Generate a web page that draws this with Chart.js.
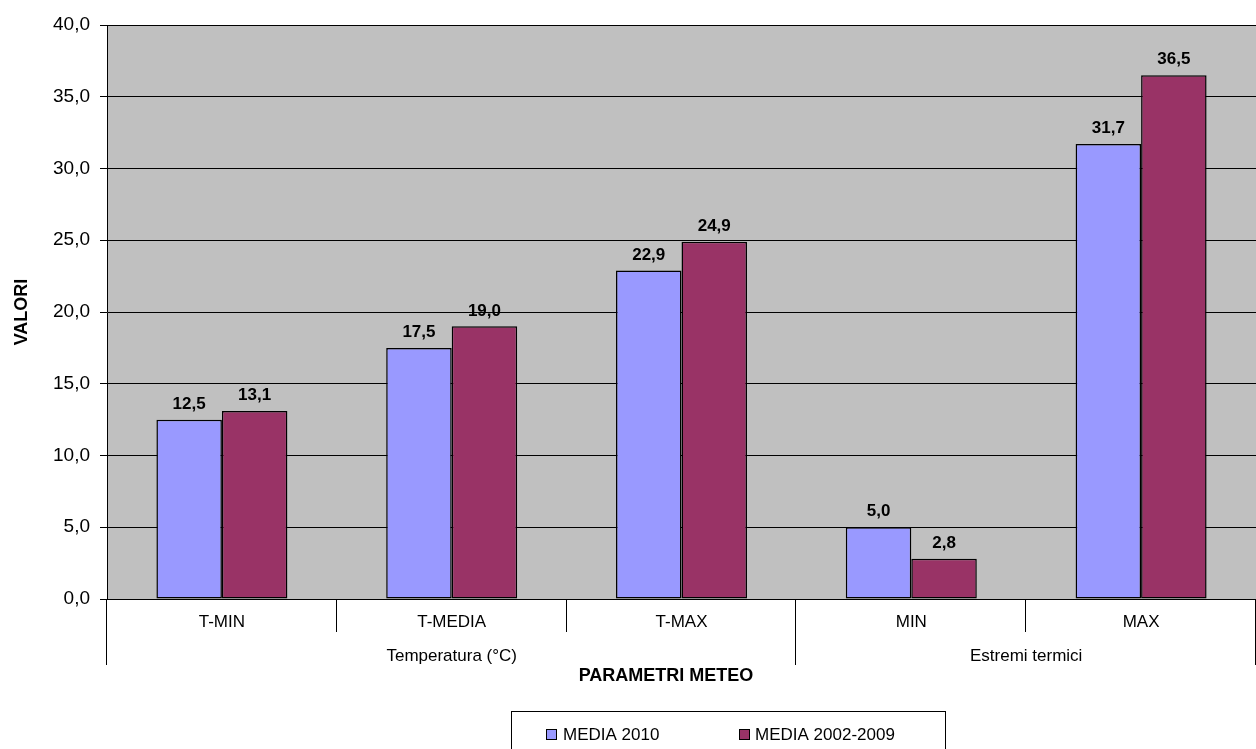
<!DOCTYPE html>
<html>
<head>
<meta charset="utf-8">
<script src="https://cdn.jsdelivr.net/npm/chart.js@4.4.0/dist/chart.umd.min.js"></script>
<style>
    html, body { margin: 0; padding: 0; background: #fff; }
    #wrap { width: 1256px; height: 749px; position: relative; }
</style>
</head>
<body>
<div id="wrap"><canvas id="meteoChart"></canvas></div>
<script>
const categories = ['T-MIN', 'T-MEDIA', 'T-MAX', 'MIN', 'MAX'];
const groups = [
    { label: 'Temperatura (°C)', from: 0, to: 3 },
    { label: 'Estremi termici', from: 3, to: 5 }
];
const media2010 = [12.5, 17.5, 22.9, 5.0, 31.7];
const media20022009 = [13.1, 19.0, 24.9, 2.8, 36.5];
const seriesNames = ['MEDIA 2010', 'MEDIA 2002-2009'];
const seriesColors = ['#9999FF', '#993366'];

const fmt = v => v.toFixed(1).replace('.', ',');
const FONT = "'Liberation Sans', Arial, sans-serif";

// gray plot background
const plotBg = {
    id: 'plotBg',
    beforeDraw(chart) {
        const { ctx, chartArea: a } = chart;
        ctx.save();
        ctx.fillStyle = '#C0C0C0';
        ctx.fillRect(a.left, a.top, a.right - a.left, a.bottom - a.top);
        ctx.restore();
    }
};

// value labels, multi-level x axis, titles and legend box
const extras = {
    id: 'extras',
    afterDraw(chart) {
        const { ctx, chartArea: a } = chart;
        const x = chart.scales.x;
        ctx.save();

        // value labels above bars
        ctx.font = 'bold 17px ' + FONT;
        ctx.fillStyle = '#000';
        ctx.textAlign = 'center';
        ctx.textBaseline = 'bottom';
        chart.data.datasets.forEach((ds, di) => {
            chart.getDatasetMeta(di).data.forEach((bar, i) => {
                ctx.fillText(fmt(ds.data[i]), bar.x, bar.y - 7);
            });
        });

        // category separators
        const step = (a.right - a.left) / categories.length;
        ctx.strokeStyle = '#000';
        ctx.lineWidth = 1;
        for (let i = 0; i <= categories.length; i++) {
            const px = Math.round(a.left + i * step) - 0.5;
            const isGroupEdge = groups.some(g => g.from === i || g.to === i);
            ctx.beginPath();
            ctx.moveTo(px, a.bottom);
            ctx.lineTo(px, a.bottom + (isGroupEdge ? 66 : 33));
            ctx.stroke();
        }

        // category labels
        ctx.font = '17px ' + FONT;
        ctx.textBaseline = 'middle';
        categories.forEach((c, i) => {
            ctx.fillText(c, x.getPixelForValue(i), a.bottom + 23);
        });

        // group labels
        groups.forEach(g => {
            const cx = a.left + (g.from + g.to) / 2 * step;
            ctx.fillText(g.label, cx, a.bottom + 57);
        });

        // axis titles
        ctx.font = 'bold 18px ' + FONT;
        ctx.fillText('PARAMETRI METEO', 666, a.bottom + 77);
        ctx.save();
        ctx.translate(22, 312);
        ctx.rotate(-Math.PI / 2);
        ctx.fillText('VALORI', 0, 0);
        ctx.restore();

        // legend box
        ctx.strokeRect(511.5, 711.5, 434, 50);
        const items = [{ sx: 546, tx: 563 }, { sx: 739, tx: 755 }];
        ctx.font = '17px ' + FONT;
        ctx.textAlign = 'left';
        items.forEach((it, i) => {
            ctx.fillStyle = seriesColors[i];
            ctx.fillRect(it.sx, 729, 11, 11);
            ctx.strokeRect(it.sx + 0.5, 729.5, 10, 10);
            ctx.fillStyle = '#000';
            ctx.fillText(seriesNames[i], it.tx, 735);
        });

        ctx.restore();
    }
};

new Chart(document.getElementById('meteoChart'), {
    type: 'bar',
    data: {
        labels: categories,
        datasets: [
            {
                label: seriesNames[0],
                data: media2010,
                backgroundColor: seriesColors[0],
                borderColor: '#000',
                borderWidth: 1.5,
                borderSkipped: false
            },
            {
                label: seriesNames[1],
                data: media20022009,
                backgroundColor: seriesColors[1],
                borderColor: '#000',
                borderWidth: 1.5,
                borderSkipped: false
            }
        ]
    },
    options: {
        responsive: true,
        maintainAspectRatio: false,
        animation: false,
        categoryPercentage: 0.57,
        barPercentage: 1.0,
        layout: { padding: { top: 25, right: 0, left: 0, bottom: 0 } },
        plugins: {
            legend: { display: false },
            tooltip: { enabled: false }
        },
        scales: {
            x: {
                grid: { display: false },
                border: { color: '#000' },
                ticks: { display: false },
                afterFit: scale => { scale.height = 150; }
            },
            y: {
                min: 0,
                max: 40,
                ticks: {
                    stepSize: 5,
                    color: '#000',
                    padding: 10,
                    font: { family: FONT, size: 19 },
                    callback: v => fmt(v)
                },
                grid: { color: '#000', tickLength: 7, tickColor: '#000' },
                border: { color: '#000' },
                afterFit: scale => { scale.width = 107; }
            }
        }
    },
    plugins: [plotBg, extras]
});
</script>
</body>
</html>
